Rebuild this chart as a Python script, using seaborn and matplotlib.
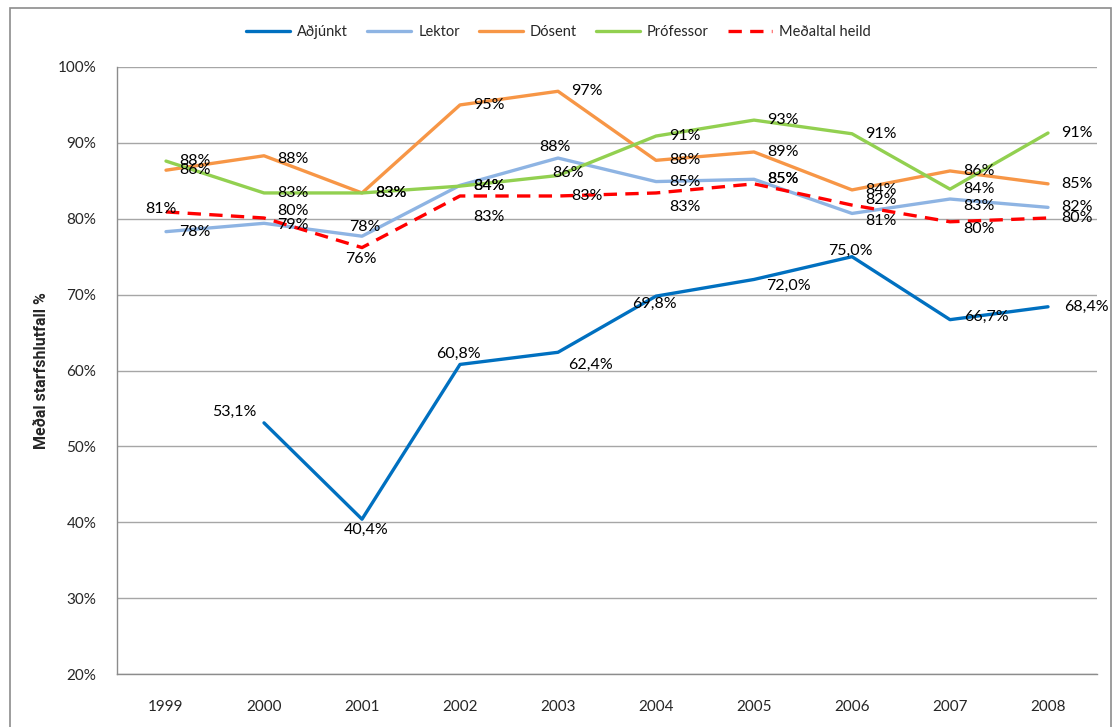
import matplotlib
matplotlib.use("Agg")
import matplotlib.pyplot as plt
from matplotlib.patches import Rectangle
import pandas as pd
import seaborn as sns

# Gögn
years = [1999, 2000, 2001, 2002, 2003, 2004, 2005, 2006, 2007, 2008]
adjunkt = [None, 53.1, 40.4, 60.8, 62.4, 69.8, 72.0, 75.0, 66.7, 68.4]
lektor = [78.3, 79.4, 77.7, 84.4, 88.0, 84.9, 85.2, 80.7, 82.6, 81.5]
dosent = [86.4, 88.3, 83.4, 95.0, 96.8, 87.7, 88.8, 83.8, 86.3, 84.6]
professor = [87.6, 83.4, 83.4, 84.3, 85.7, 90.9, 93.0, 91.2, 83.9, 91.3]
medaltal = [80.9, 80.1, 76.2, 83.0, 83.0, 83.4, 84.6, 81.8, 79.6, 80.1]

series_names = ["Aðjúnkt", "Lektor", "Dósent", "Prófessor", "Meðaltal heild"]
colors = ["#0070C0", "#8EB4E3", "#F79646", "#92D050", "#FF0000"]

rows = []
for name, vals in zip(series_names, [adjunkt, lektor, dosent, professor, medaltal]):
    for y, v in zip(years, vals):
        rows.append({"Ár": y, "Hlutfall": v, "Hópur": name})
df = pd.DataFrame(rows)

# staðsetning merkja (pixlar, miðað við punkt) - sjálfgefið hægra megin
default_off = (13, 0)
label_off = {
    ("Meðaltal heild", 1999): (-21, 3),
    ("Dósent", 2000): (13, -3),
    ("Meðaltal heild", 2000): (13, 7),
    ("Lektor", 2000): (13, -2),
    ("Lektor", 2001): (-13, 9),
    ("Meðaltal heild", 2001): (-17, -11),
    ("Lektor", 2002): (13, -0.76),
    ("Meðaltal heild", 2002): (13, -21),
    ("Lektor", 2003): (-19, 11),
    ("Prófessor", 2003): (-6, 3),
    ("Meðaltal heild", 2004): (13, -14),
    ("Meðaltal heild", 2005): (13, 4.56),
    ("Meðaltal heild", 2006): (13, 5),
    ("Lektor", 2006): (13, -8),
    ("Lektor", 2007): (13, -7),
    ("Meðaltal heild", 2007): (13, -7),
    ("Aðjúnkt", 2000): (-52, 11),
    ("Aðjúnkt", 2001): (-18, -11),
    ("Aðjúnkt", 2002): (-24, 11),
    ("Aðjúnkt", 2003): (10, -13),
    ("Aðjúnkt", 2004): (-24, -8),
    ("Aðjúnkt", 2005): (12, -6),
    ("Aðjúnkt", 2006): (-24, 6),
    ("Aðjúnkt", 2007): (14, 3),
    ("Aðjúnkt", 2008): (16, 0),
}

sns.set_style("white")
plt.rcParams["font.family"] = ["Lato", "DejaVu Sans"]

fig = plt.figure(figsize=(11.17, 7.27), dpi=100)
ax = fig.add_axes([117 / 1117, 1 - 674 / 727, (1097 - 117) / 1117, (674 - 67) / 727])

# rammi utan um myndina
fig.patches.append(Rectangle((10 / 1117, -0.01), (1111 - 10) / 1117, 1 - 8 / 727 + 0.01,
                             transform=fig.transFigure, fill=False, edgecolor="#8C8C8C",
                             linewidth=1.2))

sns.lineplot(data=df, x="Ár", y="Hlutfall", hue="Hópur", style="Hópur",
             hue_order=series_names, style_order=series_names,
             palette=dict(zip(series_names, colors)),
             dashes={"Aðjúnkt": "", "Lektor": "", "Dósent": "", "Prófessor": "",
                     "Meðaltal heild": (4, 2.5)},
             linewidth=2.4, legend=False, ax=ax, zorder=3)

# gagnamerki
for name, vals in zip(series_names, [adjunkt, lektor, dosent, professor, medaltal]):
    for y, v in zip(years, vals):
        if v is None:
            continue
        txt = f"{v:.1f}%".replace(".", ",") if name == "Aðjúnkt" else f"{v:.0f}%"
        dx, dy = label_off.get((name, y), default_off)
        ax.annotate(txt, (y, v), xytext=(dx, dy), textcoords="offset pixels",
                    ha="left", va="center", fontsize=11.5, color="black", zorder=4)

ax.set_xlim(1998.5, 2008.5)
ax.set_ylim(20, 100)
ax.set_yticks(range(20, 101, 10))
ax.set_yticklabels([f"{t}%" for t in range(20, 101, 10)])
ax.set_xticks(years)
ax.set_xticks([y - 0.5 for y in years] + [2008.5], minor=True)
ax.tick_params(axis="x", which="major", length=0, pad=19, labelsize=11)
ax.tick_params(axis="x", which="minor", length=5, color="#8C8C8C", width=1, direction="out")
ax.tick_params(axis="y", which="major", length=6, color="#8C8C8C", width=1,
               direction="out", pad=9, labelsize=11)

ax.yaxis.grid(True, color="#A6A6A6", linewidth=1)
ax.set_axisbelow(True)
for s in ["top", "right"]:
    ax.spines[s].set_visible(False)
for s in ["left", "bottom"]:
    ax.spines[s].set_color("#8C8C8C")
    ax.spines[s].set_linewidth(1)

ax.set_xlabel("")
ax.set_ylabel("Meðal starfshlutfall %", fontsize=11.5, fontweight="bold",
              family=["Roboto", "DejaVu Sans"], labelpad=6)

handles = ax.get_lines()[:5]
leg = fig.legend(handles, series_names, loc="center", bbox_to_anchor=(0.5, 1 - 32 / 727),
                 ncol=5, frameon=False, fontsize=10.5, handlelength=3.0,
                 handletextpad=0.5, columnspacing=1.3)

plt.savefig("out.png", dpi=100)
